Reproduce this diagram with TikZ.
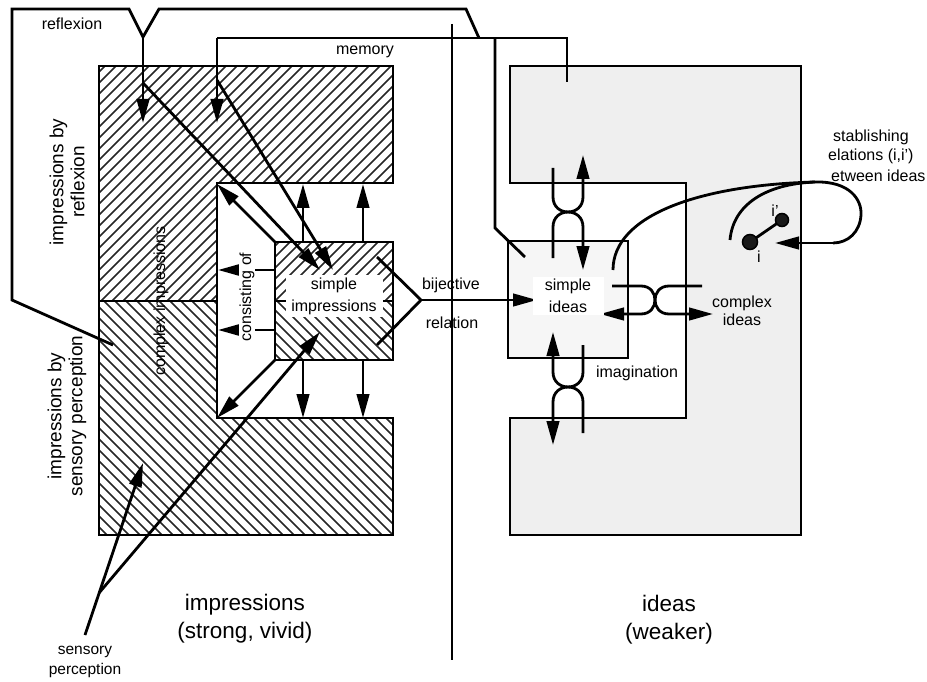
\documentclass[tikz,border=0pt]{standalone}
\usepackage{fontspec}
\setmainfont{Liberation Sans}
\usetikzlibrary{arrows.meta}
\definecolor{idgray}{RGB}{239,239,239}
\definecolor{sigray}{RGB}{246,246,246}
\begin{document}
\begin{tikzpicture}[x=1pt,y=-1pt,
  ln/.style={line width=2.8pt},
  arr/.style={line width=2.8pt,-{Triangle[length=24pt,width=12.5pt]}},
  hatch/.style={line width=1.5pt,black!85},
  lbl/.style={font=\fontsize{16}{22}\selectfont,align=center,inner sep=1pt},
  big/.style={font=\fontsize{22.5}{28}\selectfont,align=center,inner sep=1pt},
  side/.style={font=\fontsize{19}{21}\selectfont,align=center,rotate=90,inner sep=1pt}
]
\useasboundingbox (0,0) rectangle (927,682);

% ---------- ideas region ----------
\filldraw[ln,fill=idgray] (510,66) -- (801,66) -- (801,535) -- (510,535) -- (510,418)
   -- (686,418) -- (686,183) -- (510,183) -- cycle;
\filldraw[ln,fill=sigray] (508,241) rectangle (628,358);

% ---------- hatching ----------
\begin{scope}
 \clip (99,66) -- (393,66) -- (393,183) -- (217,183) -- (217,301) -- (99,301) -- cycle;
 \foreach \c in {160,171,...,710} \draw[hatch] (\c,0) -- ++(-700,700);
\end{scope}
\begin{scope}
 \clip (99,301) -- (217,301) -- (217,418) -- (393,418) -- (393,535) -- (99,535) -- cycle;
 \foreach \c in {-450,-439,...,110} \draw[hatch] (\c,0) -- ++(700,700);
\end{scope}
\begin{scope}
 \clip (275,242) rectangle (393,301);
 \foreach \c in {510,521,...,700} \draw[hatch] (\c,0) -- ++(-700,700);
\end{scope}
\begin{scope}
 \clip (275,301) rectangle (393,360);
 \foreach \c in {-90,-79,...,100} \draw[hatch] (\c,0) -- ++(700,700);
\end{scope}

% ---------- impressions outline ----------
\draw[ln] (393,183) -- (393,66) -- (99,66) -- (99,535) -- (393,535) -- (393,418)
   -- (217,418) -- (217,183) -- cycle;
\draw[ln] (99,301) -- (217,301);
\draw[ln] (275,242) rectangle (393,360);
\draw[ln] (275,301) -- (393,301);

% ---------- coordinates ----------
\coordinate (fA) at (113,345);
\coordinate (fB) at (12,300);
\coordinate (fC) at (12,9);
\coordinate (fD) at (129,9);
\coordinate (rY) at (143,37);
\coordinate (fE) at (159,9);
\coordinate (fF) at (466,9);
\coordinate (fG) at (479,38);
\coordinate (rT) at (143,123);
\coordinate (mL) at (217,38);
\coordinate (mT) at (217,123);
\coordinate (mR) at (567,38);
\coordinate (mE) at (567,82);
\coordinate (mV) at (495,38);
\coordinate (mW) at (495,228);
\coordinate (mX) at (525,257);
\coordinate (dTop) at (452,24);
\coordinate (dBot) at (452,660);

% ---------- frame lines ----------
\draw[ln] (fA) -- (fB) -- (fC) -- (fD) -- (rY) -- (fE) -- (fF) -- (fG);
\draw[arr] (rY) -- (rT);
\draw[ln] (mL) -- (mR) -- (mE);
\draw[arr] (mL) -- (mT);
\draw[ln] (mV) -- (mW) -- (mX);
\draw[ln] (dTop) -- (dBot);

% ---------- diagonal arrows ----------
\coordinate (r1) at (143,83);   \coordinate (r1e) at (320,270);
\coordinate (m1) at (217,80);   \coordinate (m1e) at (333,270);
\coordinate (siTL) at (275,242); \coordinate (inTL) at (217,184);
\coordinate (siBL) at (275,360); \coordinate (inBL) at (217,418);
\coordinate (sp0) at (85,635);  \coordinate (sp1) at (143,463);
\coordinate (spX) at (99,593);  \coordinate (sp2) at (320,332);
\draw[arr] (r1) -- (r1e);
\draw[arr] (m1) -- (m1e);
\draw[arr] (siTL) -- (inTL);
\draw[arr] (siBL) -- (inBL);
\draw[arr] (sp0) -- (sp1);
\draw[arr] (spX) -- (sp2);

% ---------- vertical arrows from simple impressions ----------
\draw[arr] (303,242) -- (303,184);
\draw[arr] (363,242) -- (363,184);
\draw[arr] (303,360) -- (303,418);
\draw[arr] (363,360) -- (363,418);

% ---------- consisting of arrows ----------
\draw[arr] (275,270) -- (218,270);
\draw[arr] (275,330) -- (218,330);

% ---------- bijective relation ----------
\coordinate (bA) at (377,257);
\coordinate (bB) at (421,300);
\coordinate (bC) at (377,345);
\coordinate (bD) at (537,300);
\draw[ln] (bA) -- (bB) -- (bC);
\draw[arr] (bB) -- (bD);

% ---------- knots ----------
\draw[arr] (553,168) -- (553,197) .. controls (553,217) and (583,217) .. (583,197) -- (583,155);
\draw[arr] (553,258) -- (553,227) .. controls (553,207) and (583,207) .. (583,227) -- (583,270);
\draw[arr] (583,345) -- (583,372) .. controls (583,392) and (553,392) .. (553,372) -- (553,332);
\draw[arr] (583,433) -- (583,402) .. controls (583,382) and (553,382) .. (553,402) -- (553,445);
\draw[arr] (612,286) -- (641,286) .. controls (659.7,286) and (659.7,314) .. (641,314) -- (600,314);
\draw[arr] (702,286) -- (669,286) .. controls (650.3,286) and (650.3,314) .. (669,314) -- (713,314);

% ---------- relations between ideas ----------
\coordinate (cS) at (613,270);
\coordinate (cT) at (815,182);
\coordinate (cE) at (833,243);
\coordinate (cA) at (775,243);
\coordinate (cI) at (730,240);
\draw[ln] (cS) .. controls (613,215) and (700,185) .. (cT)
   .. controls (850,181) and (862,200) .. (861,215)
   .. controls (860,232) and (848,243) .. (cE);
\draw[arr] (cE) -- (cA);
\draw[ln] (cI) .. controls (733,205) and (765,184) .. (cT);
\coordinate (pi) at (750,242);
\coordinate (pj) at (782,220);
\draw[ln] (pi) -- (pj);
\filldraw[fill=black!90,draw=black,line width=1.5pt] (pi) circle[radius=7.5pt];
\filldraw[fill=black!90,draw=black,line width=1.5pt] (pj) circle[radius=6.5pt];

% ---------- labels ----------
\node[lbl] (lreflex) at (72,24) {reflexion};
\node[lbl] (lmemory) at (365,52) {memory};
\node[side] (libr) at (67,182) {impressions by\\reflexion};
\node[side] (libs) at (67,416) {impressions by\\sensory perception};
\node[lbl,rotate=90] (lcimp) at (161,301) {complex impressions};
\node[lbl,rotate=90,fill=white] (lcons) at (247,297) {consisting of};
\node[lbl,fill=white,minimum width=97,minimum height=42] (lsimp) at (334,296) {simple\\impressions};
\node[lbl,fill=white,minimum width=71,minimum height=38] (lsid) at (568,296) {simple\\ideas};
\node[lbl] (lbij) at (451,285) {bijective};
\node[lbl] (lrel) at (452,323) {relation};
\node[lbl] (limag) at (637,373) {imagination};
\node[lbl,font=\fontsize{16}{18}\selectfont] (lcid) at (742,311) {complex\\ideas};
\node[lbl,anchor=west] (lst1) at (832,137) {stablishing};
\node[lbl,anchor=west] (lst2) at (827,156) {elations (i,i')};
\node[lbl,anchor=west] (lst3) at (830,176) {etween ideas};
\node[lbl] (li) at (759,257) {i};
\node[lbl] (lj) at (775,211) {i'};
\node[big] (limp) at (245,619) {impressions\\(strong, vivid)};
\node[big] (lideas) at (669,620) {ideas\\(weaker)};
\node[lbl,font=\fontsize{15.5}{20}\selectfont] (lsens) at (85,662) {sensory\\perception};
\end{tikzpicture}
\end{document}
